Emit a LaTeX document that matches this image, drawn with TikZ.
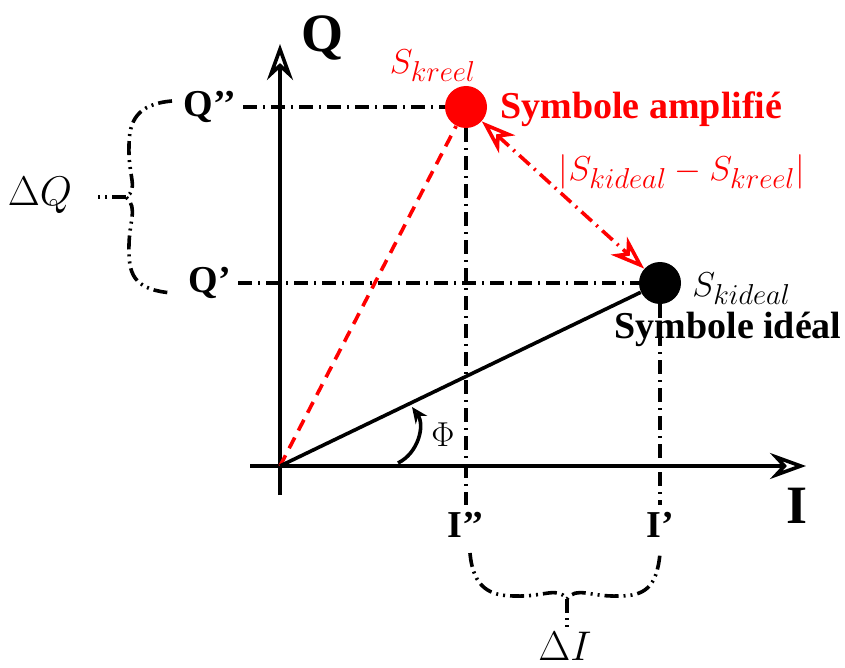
\documentclass[tikz,border=0pt]{standalone}
\usepackage{fontspec}
\setmainfont{Liberation Serif}
\usetikzlibrary{arrows.meta,positioning}

\begin{document}
\begin{tikzpicture}[x=0.5pt,y=-0.5pt,node distance=2pt,
  symb/.style={circle,minimum size=21pt,inner sep=0pt},
  lab/.style={font=\fontsize{19}{22}\selectfont\bfseries},
  mlab/.style={font=\fontsize{19}{22}\selectfont},
  dlab/.style={font=\fontsize{21.5}{24}\selectfont},
  axlab/.style={font=\fontsize{27}{30}\selectfont\bfseries},
  axis/.style={line width=1.8pt,-{Stealth[open,length=18pt,width=13pt,inset=6pt]}},
  guide/.style={line width=1.8pt,dash pattern=on 7pt off 3pt on 1pt off 3pt},
  brace/.style={line width=1.8pt,dash pattern=on 7pt off 2.5pt on 1pt off 2.5pt on 1pt off 2.5pt},
  darr/.style={red,line width=1.8pt,dash pattern=on 7pt off 3pt on 1pt off 3pt,
    {Stealth[open,length=17pt,width=12pt,inset=5pt]}-{Stealth[open,length=17pt,width=12pt,inset=5pt]}}]
\useasboundingbox (0,0) rectangle (845,668);
% axes
\coordinate (O) at (280,466);
\coordinate (xs) at (250,466);
\coordinate (xe) at (806,466);
\coordinate (ys) at (280,495);
\coordinate (ye) at (280,44);
\draw[axis] (xs)--(xe);
\draw[axis] (ys)--(ye);
\node[axlab] (Qax) at (322,38) {Q};
\node[axlab] (Iax) at (797,506) {I};
% symbols
\node[symb,fill=red] (kreel) at (466,107) {};
\node[symb,fill=black] (kideal) at (660,283) {};
\node[mlab,red] (kreellab) at (433,66) {$S_{kreel}$};
\node[mlab,right=of kideal,yshift=-3pt] (kideallab) {$S_{kideal}$};
\node[lab,red,right=3pt of kreel,yshift=-1pt] (ampl) {Symbole amplifié};
\node[lab] (ideal) at (728,329) {Symbole idéal};
% projections
\node[lab] (Q2) at (210,107) {Q’’};
\node[lab] (Q1) at (210,283) {Q’};
\node[lab] (I2) at (466,525) {I’’};
\node[lab] (I1) at (660,525) {I’};
\draw[guide] (Q2.east)--(kreel.west);
\draw[guide] (Q1.east)--(kideal.west);
\draw[guide] (kreel.south)--(I2.north);
\draw[guide] (kideal.south)--(I1.north);
% vectors
\draw[red,line width=1.8pt,dash pattern=on 6pt off 4pt] (O)--(kreel);
\draw[line width=1.8pt] (O)--(kideal);
\draw[darr] (kreel)--(kideal);
\node[mlab,red] (diff) at (682,172) {$|S_{kideal}-S_{kreel}|$};
% angle
\coordinate (phis) at (398,463);
\coordinate (phie) at (412,407);
\draw[line width=1.8pt,-{Stealth[open,length=8pt,width=7pt]}] (phis) to[bend right=50] (phie);
\node[mlab] (phi) at (443,435) {$\Phi$};
% braces
\coordinate (tipQ) at (126,197);
\coordinate (endQ) at (96,197);
\draw[brace] (172,101) .. controls (137,104) and (129,121) .. (129,146)
  .. controls (128,177) and (139,189) .. (tipQ)
  .. controls (139,209) and (128,221) .. (129,252)
  .. controls (129,277) and (137,290) .. (172,293);
\draw[brace] (tipQ)--(endQ);
\node[dlab] (dQ) at (40,195) {$\Delta Q$};
\coordinate (tipI) at (567,599);
\coordinate (endI) at (567,627);
\draw[brace] (470,553) .. controls (473,588) and (490,596) .. (515,596)
  .. controls (545,597) and (557,586) .. (tipI)
  .. controls (577,586) and (589,597) .. (619,596)
  .. controls (644,596) and (657,588) .. (660,553);
\draw[brace] (tipI)--(endI);
\node[dlab] (dI) at (565,646) {$\Delta I$};
\end{tikzpicture}
\end{document}
